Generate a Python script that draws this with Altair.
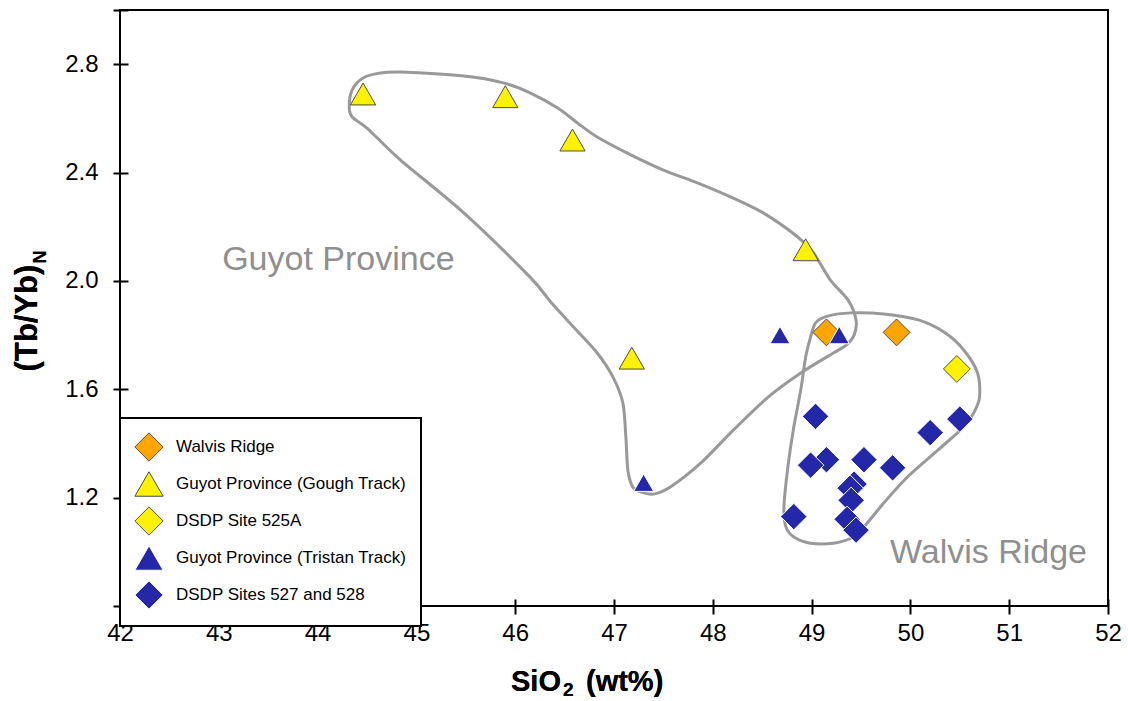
import altair as alt
import pandas as pd

# ---- Sample compositions: SiO2 (wt%) vs chondrite-normalised (Tb/Yb)N ----
walvis_sio2 = [49.15, 49.86]
walvis_tbyb = [1.81, 1.81]

gough_sio2 = [44.46, 45.90, 46.58, 48.94, 47.18]
gough_tbyb = [2.69, 2.68, 2.52, 2.115, 1.715]

site525_sio2 = [50.47]
site525_tbyb = [1.675]

tristan_sio2 = [48.68, 49.28, 47.30]
tristan_tbyb = [1.80, 1.80, 1.255]

sites527_sio2 = [49.04, 50.50, 50.20, 49.15, 48.99, 49.53, 49.82,
                 49.43, 49.39, 49.40, 48.82, 49.36, 49.45]
sites527_tbyb = [1.50, 1.49, 1.44, 1.34, 1.32, 1.34, 1.31,
                 1.25, 1.235, 1.19, 1.13, 1.12, 1.08]

series_names = ["Walvis Ridge", "Guyot Province (Gough Track)", "DSDP Site 525A",
                "Guyot Province (Tristan Track)", "DSDP Sites 527 and 528"]
series_fill = ["#FFA500", "#FFF200", "#FFF200", "#2327A8", "#2327A8"]
series_edge = ["#4d4d4d", "#4d4d4d", "#4d4d4d", "#FFFFFF", "#FFFFFF"]
series_shape = ["diamond", "triangle-up", "diamond", "triangle-up", "diamond"]
series_size = [720, 640, 720, 400, 700]

# ---- Field outlines (closed smooth curves, traced clockwise) ----
guyot_x = [44.32, 44.35, 44.46, 44.63, 44.84, 45.48, 45.88, 46.15, 46.43, 46.63,
           46.83, 47.17, 47.50, 47.85, 48.18, 48.51, 48.86, 49.02, 49.19, 49.37,
           49.45, 49.43, 49.35, 49.22, 48.89, 48.56, 48.21, 47.88, 47.57, 47.40,
           47.27, 47.19, 47.14, 47.12, 47.09, 46.99, 46.83, 46.59, 46.36, 46.15,
           45.48, 44.84, 44.50, 44.35]
guyot_y = [2.642, 2.705, 2.749, 2.767, 2.771, 2.756, 2.731, 2.694, 2.638, 2.583,
           2.531, 2.465, 2.409, 2.361, 2.310, 2.251, 2.162, 2.103, 2.003, 1.929,
           1.856, 1.800, 1.763, 1.734, 1.660, 1.571, 1.450, 1.328, 1.239, 1.213,
           1.221, 1.239, 1.302, 1.424, 1.549, 1.645, 1.734, 1.830, 1.922, 2.014,
           2.251, 2.446, 2.564, 2.605]

walvis_x = [48.99, 49.04, 49.16, 49.40, 49.73, 50.08, 50.34, 50.54, 50.68, 50.70,
            50.64, 50.54, 50.28, 49.97, 49.73, 49.53, 49.40, 49.22, 48.99, 48.82,
            48.74, 48.72, 48.76, 48.82, 48.89, 48.94]
walvis_y = [1.793, 1.845, 1.870, 1.882, 1.878, 1.856, 1.811, 1.745, 1.660, 1.571,
            1.512, 1.461, 1.376, 1.276, 1.180, 1.092, 1.051, 1.032, 1.032, 1.055,
            1.092, 1.165, 1.313, 1.461, 1.597, 1.719]

# ---- Field labels ----
field_labels = ["Guyot Province", "Walvis Ridge"]
field_label_x = [44.21, 50.79]
field_label_y = [2.04, 0.96]

x_ticks = [42, 43, 44, 45, 46, 47, 48, 49, 50, 51, 52]
y_ticks = [0.8, 1.2, 1.6, 2.0, 2.4, 2.8, 3.0]

FONT = "Liberation Sans"

# ---- Tables ----
rows = []
for name, xs, ys in [
    (series_names[0], walvis_sio2, walvis_tbyb),
    (series_names[1], gough_sio2, gough_tbyb),
    (series_names[2], site525_sio2, site525_tbyb),
    (series_names[3], tristan_sio2, tristan_tbyb),
    (series_names[4], sites527_sio2, sites527_tbyb),
]:
    for xv, yv in zip(xs, ys):
        rows.append({"series": name, "sio2": xv, "tbyb": yv})
points = pd.DataFrame(rows)

outline_rows = []
for region, xs, ys in [("guyot", guyot_x, guyot_y), ("walvis", walvis_x, walvis_y)]:
    for i, (xv, yv) in enumerate(zip(xs, ys)):
        outline_rows.append({"region": region, "order": i, "sio2": xv, "tbyb": yv})
outlines = pd.DataFrame(outline_rows)

labels = pd.DataFrame({"label": field_labels, "sio2": field_label_x, "tbyb": field_label_y})

# ---- Scales and axes ----
x_enc = alt.X(
    "sio2:Q",
    scale=alt.Scale(domain=[42, 52], nice=False, zero=False),
    axis=alt.Axis(values=x_ticks, format="d", title=None, grid=False, domain=False,
                  tickSize=15, tickWidth=2, tickColor="black", offset=-7,
                  labelFontSize=24, labelFont=FONT, labelColor="black",
                  labelPadding=7, labelFlush=False, labelOverlap=False),
)
y_enc = alt.Y(
    "tbyb:Q",
    scale=alt.Scale(domain=[0.8, 3.0], nice=False, zero=False),
    axis=alt.Axis(values=y_ticks, title=None, grid=False, domain=False,
                  labelExpr="datum.value < 1 || datum.value > 2.9 ? '' : format(datum.value, '.1f')",
                  tickSize=15, tickWidth=2, tickColor="black", offset=-8,
                  labelFontSize=24, labelFont=FONT, labelColor="black",
                  labelPadding=15, labelFlush=False, labelOverlap=False),
)

legend = alt.Legend(
    title=None, orient="none", legendX=0, legendY=408, padding=14,
    strokeColor="black", fillColor="white", symbolSize=800,
    symbolStrokeWidth=1, labelFont=FONT, labelFontSize=17, labelColor="black",
    labelOffset=12, rowPadding=5, labelLimit=400,
)

color_enc = alt.Color("series:N", scale=alt.Scale(domain=series_names, range=series_fill), legend=legend)
shape_enc = alt.Shape("series:N", scale=alt.Scale(domain=series_names, range=series_shape), legend=legend)
stroke_enc = alt.Stroke("series:N", scale=alt.Scale(domain=series_names, range=series_edge), legend=legend)

# ---- Layers ----
outline_layer = alt.Chart(outlines).mark_line(
    interpolate="cardinal-closed", tension=0.15, color="#999999", strokeWidth=3
).encode(x=x_enc, y=y_enc, detail="region:N", order="order:Q")

label_layer = alt.Chart(labels).mark_text(
    font=FONT, fontSize=34, color="#8f8f8f", align="center", baseline="alphabetic"
).encode(x="sio2:Q", y="tbyb:Q", text="label:N")

draw_order = [4, 0, 2, 1, 3]
point_layers = []
for idx in draw_order:
    name = series_names[idx]
    point_layers.append(
        alt.Chart(points).transform_filter(alt.datum.series == name).mark_point(
            filled=True, opacity=1, size=series_size[idx], strokeWidth=1
        ).encode(x="sio2:Q", y="tbyb:Q", color=color_enc, shape=shape_enc, stroke=stroke_enc)
    )


def title_text(text, x, y, size, angle=0, align="center", baseline="alphabetic"):
    mark_args = dict(font=FONT, fontSize=size, fontWeight="bold", color="black",
                     align=align, baseline=baseline)
    if angle:
        mark_args["angle"] = angle
    return alt.Chart(labels).mark_text(**mark_args).encode(
        x=alt.value(x), y=alt.value(y), text=alt.value(text)
    )


# x-axis title "SiO2 (wt%)" with a lowered subscript 2
x_title = [
    title_text("SiO", 441, 681, 29, align="right"),
    title_text("2", 443, 686, 19, align="left"),
    title_text("(wt%)", 466, 681, 29, align="left"),
]

# y-axis title "(Tb/Yb)N" with subscript N
y_title = [
    title_text("(Tb/Yb)", -92, 308, 31, angle=270, baseline="middle"),
    title_text("N", -79, 247, 18, angle=270, baseline="middle"),
]

chart = alt.layer(
    outline_layer, label_layer, *point_layers, *x_title, *y_title
).properties(
    width=988, height=596,
    padding={"left": 120, "top": 10, "right": 20, "bottom": 95},
    autosize=alt.AutoSizeParams(type="none"),
    background="white",
).configure_view(
    stroke="black", strokeWidth=2
).configure_legend(
    strokeWidth=2
)

chart.save("out.html", embed_options={"renderer": "svg", "actions": False})
